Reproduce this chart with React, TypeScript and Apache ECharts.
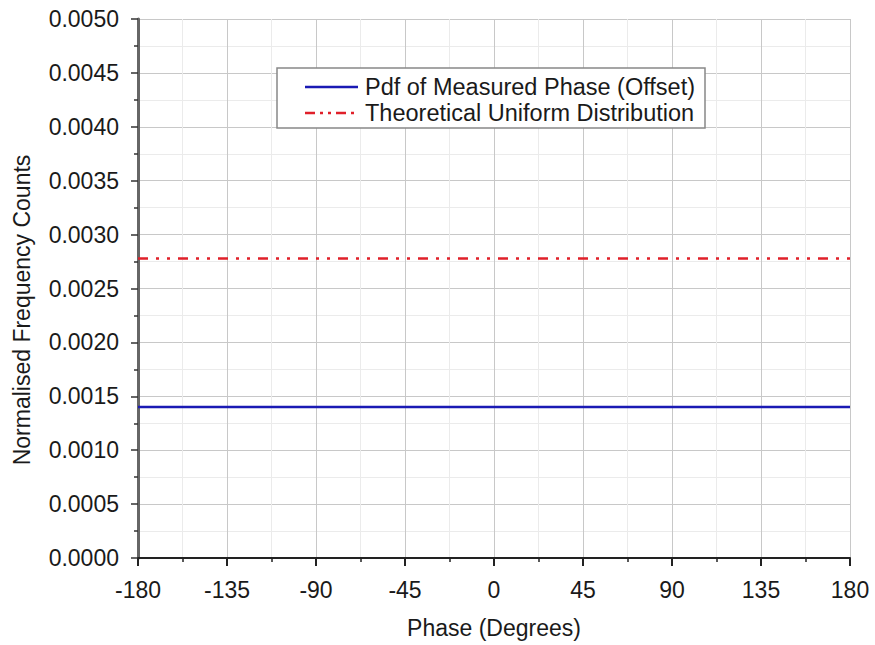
import React, { useEffect, useRef } from "react";
import * as echarts from "echarts";

const phaseRange: number[] = [-180, 180];
const measuredPdf: number[] = [0.0014, 0.0014];
const uniformPdf: number[] = [0.002778, 0.002778];
const xTicks: number[] = [-180, -135, -90, -45, 0, 45, 90, 135, 180];
const seriesNames: string[] = ["Pdf of Measured Phase (Offset)", "Theoretical Uniform Distribution"];

const FONT = "Arial, 'Liberation Sans', Helvetica, sans-serif";
const TXT = "#1a1a1a";

export default function App() {
  const ref = useRef<HTMLDivElement>(null);
  useEffect(() => {
    document.body.style.margin = "0";
    const chart = echarts.init(ref.current!, undefined, { renderer: "svg" });
    const redDash = [10, 8, 3, 8, 3, 8];
    chart.setOption({
      animation: false,
      backgroundColor: "#ffffff",
      grid: { left: 138, right: 25, top: 19, bottom: 87, containLabel: false },
      xAxis: {
        type: "value",
        min: xTicks[0],
        max: xTicks[xTicks.length - 1],
        interval: 45,
        name: "Phase (Degrees)",
        nameLocation: "middle",
        nameGap: 58,
        nameTextStyle: { fontFamily: FONT, fontSize: 23, color: TXT },
        axisLine: { show: true, onZero: false, lineStyle: { color: "#222", width: 2 } },
        axisTick: { show: true, inside: false, length: 8, lineStyle: { color: "#222", width: 2 } },
        minorTick: { show: true, splitNumber: 2, length: 4, lineStyle: { color: "#222", width: 1.5 } },
        axisLabel: { fontFamily: FONT, fontSize: 23, color: TXT, margin: 20 },
        splitLine: { show: true, lineStyle: { color: "#c8c8c8", width: 1 } },
        minorSplitLine: { show: true, lineStyle: { color: "#ebebeb", width: 1 } },
      },
      yAxis: {
        type: "value",
        min: 0,
        max: 0.005,
        interval: 0.0005,
        axisLine: { show: true, onZero: false, lineStyle: { color: "#666", width: 3 } },
        axisTick: { show: true, inside: false, length: 7, lineStyle: { color: "#333", width: 1.5 } },
        minorTick: { show: true, splitNumber: 2, length: 4, lineStyle: { color: "#333", width: 1.5 } },
        axisLabel: {
          fontFamily: FONT,
          fontSize: 23,
          color: TXT,
          margin: 19,
          formatter: (v: number) => v.toFixed(4),
        },
        splitLine: { show: true, lineStyle: { color: "#c8c8c8", width: 1 } },
        minorSplitLine: { show: true, lineStyle: { color: "#ebebeb", width: 1 } },
      },
      series: [
        {
          name: seriesNames[0],
          type: "line",
          data: phaseRange.map((x, i) => [x, measuredPdf[i]]),
          showSymbol: false,
          symbol: "none",
          lineStyle: { color: "#1a1ab4", width: 2.5 },
          z: 3,
        },
        {
          name: seriesNames[1],
          type: "line",
          data: phaseRange.map((x, i) => [x, uniformPdf[i]]),
          showSymbol: false,
          symbol: "none",
          lineStyle: { color: "#e0202a", width: 2.5, type: redDash },
          z: 3,
        },
      ],
      graphic: [
        {
          type: "text",
          x: 22,
          y: 310,
          rotation: Math.PI / 2,
          style: {
            text: "Normalised Frequency Counts",
            fontFamily: FONT,
            fontSize: 23,
            fill: TXT,
            align: "center",
            verticalAlign: "middle",
          },
        },
        {
          type: "rect",
          shape: { x: 277, y: 68, width: 428, height: 60 },
          style: { fill: "#ffffff", stroke: "#888", lineWidth: 1.5 },
          z: 10,
        },
        {
          type: "line",
          shape: { x1: 305, y1: 87, x2: 358, y2: 87 },
          style: { stroke: "#1a1ab4", lineWidth: 2.5 },
          z: 11,
        },
        {
          type: "line",
          shape: { x1: 305, y1: 113, x2: 358, y2: 113 },
          style: { stroke: "#e0202a", lineWidth: 2.5, lineDash: [10, 5, 3, 5, 3, 5] },
          z: 11,
        },
        {
          type: "text",
          x: 365,
          y: 87,
          style: { text: seriesNames[0], fontFamily: FONT, fontSize: 23.5, fill: TXT, verticalAlign: "middle" },
          z: 11,
        },
        {
          type: "text",
          x: 365,
          y: 113,
          style: { text: seriesNames[1], fontFamily: FONT, fontSize: 23.5, fill: TXT, verticalAlign: "middle" },
          z: 11,
        },
      ],
    });
    return () => chart.dispose();
  }, []);
  return <div ref={ref} style={{ width: 875, height: 645 }} />;
}
